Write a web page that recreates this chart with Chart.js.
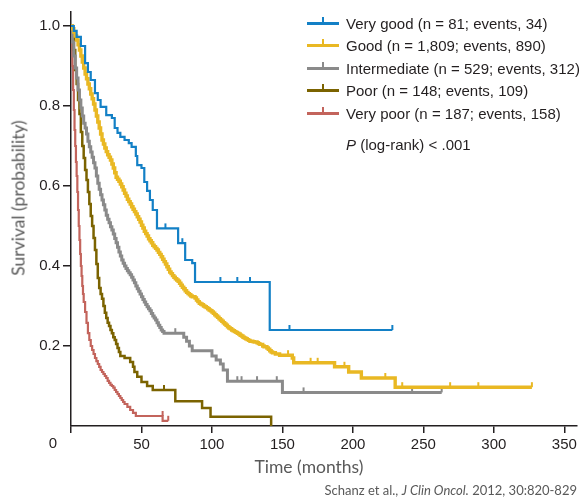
<!DOCTYPE html>
<html><head><meta charset="utf-8">
<script src="https://cdn.jsdelivr.net/npm/chart.js@4.4.0/dist/chart.umd.min.js"></script>
<style>
html,body{margin:0;padding:0;background:#fff;}
#wrap{position:relative;width:585px;height:500px;overflow:hidden;}
#c{position:absolute;left:0;top:0;}
.txt{position:absolute;white-space:nowrap;color:#231f20;font-family:"Liberation Sans",Arial,sans-serif;font-size:15px;}
.row{position:absolute;left:307px;height:20px;}
.sw{position:absolute;left:0;top:8px;width:32px;height:3px;}
.tk{position:absolute;left:15px;top:3px;width:2px;height:8px;}
.lab{position:absolute;left:39px;top:0;line-height:20px;}
.title{position:absolute;white-space:nowrap;color:#595959;font-family:Lato,"Open Sans",sans-serif;font-size:17.5px;}
</style></head>
<body><div id="wrap"><canvas id="c" width="585" height="500"></canvas>
<div id="legend"></div>
<div class="txt" style="left:346px;top:135px;line-height:20px;"><i>P</i> (log-rank) &lt; .001</div>
<div class="title" style="left:309px;top:466px;transform:translate(-50%,-50%);">Time (months)</div>
<div class="title" style="left:17.5px;top:198px;transform:translate(-50%,-50%) rotate(-90deg);">Survival (probability)</div>
<div class="title" style="right:8px;top:481px;font-size:13px;line-height:18px;">Schanz et al., <i>J Clin Oncol.</i> 2012, 30:820-829</div>
</div>
<script>
const seriesNames = ['Very good','Good','Intermediate','Poor','Very poor'];
const seriesN = ['81','1,809','529','148','187'];
const seriesEvents = ['34','890','312','109','158'];
const seriesColors = ['#1380c6','#e9b823','#8a8a8a','#7b6300','#c3645c'];
const seriesWidths = [2.2,3.4,3,2.5,2.2];

const xTicks = [0,50,100,150,200,250,300,350];
const yTicks = [0.2,0.4,0.6,0.8,1.0];

// Very good
const vgT = [0,2,4,7,10,12,14,17,19,21,25,29,31,33,35,38,41,43,46,47,50,52,54,56,58,61,76,81,86,88,141,228];
const vgS = [1,0.988,0.973,0.95,0.907,0.885,0.865,0.832,0.815,0.798,0.777,0.77,0.745,0.733,0.723,0.715,0.707,0.698,0.675,0.652,0.645,0.61,0.588,0.565,0.54,0.494,0.457,0.415,0.407,0.36,0.24,0.24];
const vgCT = [67,79,106,118,127,155,228];
const vgCS = [0.494,0.457,0.36,0.36,0.36,0.24,0.24];

// Good
const gT = [0,1,2,3,4,5,6,7,8,9,10,11,12,13,14,15,16,17,18,19,20,21,22,23,24,25,26,27,28,29,30,31,32,33,34,35,36,37,38,39,40,41,42,43,44,45,46,47,48,49,50,51,52,53,54,55,56,57,58,59,60,61,62,63,64,65,66,67,68,69,70,71,72,73,74,75,76,77,78,79,80,81,82,83,84,85,86,88,89,90,91,92,93,94,95,96,97,98,99,100,101,102,103,104,105,106,107,108,109,110,111,112,113,114,115,116,117,118,119,120,121,122,123,124,125,126,127,129,130,132,133,134,136,137,139,140,141,142,143,145,148,157,158,187,197,206,230,327];
const gS = [1,0.993,0.985,0.975,0.965,0.953,0.94,0.925,0.91,0.895,0.88,0.868,0.855,0.843,0.83,0.818,0.805,0.79,0.775,0.76,0.745,0.73,0.715,0.705,0.695,0.686,0.678,0.672,0.665,0.655,0.645,0.633,0.622,0.617,0.612,0.605,0.598,0.59,0.582,0.575,0.567,0.561,0.555,0.548,0.542,0.536,0.53,0.523,0.517,0.51,0.502,0.495,0.487,0.481,0.475,0.468,0.463,0.458,0.452,0.448,0.444,0.44,0.434,0.429,0.423,0.417,0.411,0.405,0.398,0.392,0.385,0.381,0.376,0.372,0.368,0.365,0.362,0.357,0.352,0.347,0.343,0.338,0.334,0.331,0.328,0.325,0.323,0.32,0.315,0.311,0.307,0.305,0.303,0.3,0.298,0.296,0.293,0.29,0.288,0.285,0.282,0.278,0.275,0.272,0.268,0.265,0.262,0.258,0.255,0.252,0.248,0.245,0.243,0.24,0.238,0.236,0.234,0.232,0.23,0.227,0.225,0.222,0.22,0.218,0.216,0.214,0.212,0.211,0.21,0.208,0.206,0.204,0.2,0.198,0.195,0.192,0.188,0.185,0.183,0.18,0.177,0.17,0.158,0.148,0.135,0.12,0.097,0.097];
const gCT = [154,170,175,194,223,235,269,289,327];
const gCS = [0.177,0.158,0.158,0.148,0.12,0.097,0.097,0.097,0.097];

// Intermediate
const iT = [0,1,2,3,4,5,6,7,8,9,10,11,12,13,14,15,16,17,18,19,20,21,22,23,24,25,26,27,28,29,30,31,32,33,34,35,36,37,38,39,40,41,42,43,44,45,46,47,48,49,50,51,52,53,54,55,56,57,58,59,60,61,62,63,64,65,66,80,82,84,86,100,103,106,108,111,150,263];
const iS = [1,0.96,0.925,0.895,0.87,0.84,0.815,0.795,0.775,0.757,0.745,0.73,0.712,0.698,0.685,0.672,0.658,0.645,0.625,0.607,0.592,0.578,0.565,0.553,0.54,0.527,0.517,0.508,0.498,0.49,0.48,0.469,0.458,0.447,0.435,0.425,0.415,0.407,0.4,0.394,0.388,0.383,0.378,0.372,0.365,0.358,0.35,0.343,0.337,0.33,0.323,0.316,0.31,0.304,0.298,0.293,0.288,0.281,0.275,0.27,0.265,0.258,0.252,0.246,0.24,0.236,0.232,0.222,0.212,0.2,0.188,0.175,0.165,0.155,0.14,0.112,0.084,0.084];
const iCT = [74,118,121,132,146,165,242,263];
const iCS = [0.232,0.112,0.112,0.112,0.112,0.084,0.084,0.084];

// Poor
const pT = [0,1,2,3,4,5,6,7,8,9,10,11,12,13,14,15,16,17,18,19,20,21,22,23,24,25,26,27,28,29,30,31,32,33,34,35,38,42,44,45,47,50,54,58,74,93,99,142];
const pS = [1,0.97,0.94,0.89,0.855,0.815,0.78,0.735,0.7,0.67,0.64,0.615,0.585,0.555,0.525,0.5,0.47,0.44,0.405,0.37,0.345,0.33,0.318,0.3,0.283,0.27,0.258,0.25,0.24,0.232,0.222,0.215,0.205,0.195,0.185,0.175,0.17,0.16,0.148,0.135,0.123,0.11,0.1,0.09,0.062,0.045,0.023,0];
const pCT = [66];
const pCS = [0.09];

// Very poor
const vpT = [0,0.5,1,1.5,2,2.5,3,3.5,4,4.5,5,5.5,6,6.5,7,7.5,8,8.5,9,10,11,12,13,14,15,16,17,18,19,20,21,22,23,24,25,26,27,28,29,30,31,32,33,34,35,36,37,38,40,42,44,46,65,69];
const vpS = [1,0.97,0.9,0.84,0.79,0.74,0.7,0.66,0.625,0.585,0.54,0.5,0.465,0.43,0.4,0.375,0.35,0.33,0.31,0.285,0.258,0.232,0.215,0.2,0.19,0.18,0.17,0.162,0.155,0.148,0.14,0.135,0.13,0.125,0.12,0.113,0.108,0.103,0.1,0.096,0.09,0.085,0.08,0.075,0.07,0.065,0.06,0.055,0.048,0.04,0.033,0.025,0.013,0.013];
const vpCT = [65,69];
const vpCS = [0.025,0.013];

const curves = [[vgT,vgS,vgCT,vgCS],[gT,gS,gCT,gCS],[iT,iS,iCT,iCS],[pT,pS,pCT,pCS],[vpT,vpS,vpCT,vpCS]];

// legend
const legendRowsY = [14,36,59,81,104];
const lg = document.getElementById('legend');
seriesNames.forEach((nm,i)=>{
  const r = document.createElement('div');
  r.className='row txt'; r.style.top = legendRowsY[i]+'px';
  r.innerHTML = '<div class="sw" style="background:'+seriesColors[i]+'"></div><div class="tk" style="background:'+seriesColors[i]+'"></div><div class="lab">'+nm+' (n = '+seriesN[i]+'; events, '+seriesEvents[i]+')</div>';
  lg.appendChild(r);
});

const datasets = [];
curves.forEach((c,i)=>{
  datasets.push({type:'scatter', data:c[2].map((t,j)=>({x:t,y:c[3][j]})), pointStyle:'dash', rotation:-90, pointRadius:5, pointBorderColor:seriesColors[i], pointBorderWidth:2, borderColor:seriesColors[i], backgroundColor:seriesColors[i], showLine:false, clip:false});
  datasets.push({type:'line', data:c[0].map((t,j)=>({x:t,y:c[1][j]})), stepped:'before', borderColor:seriesColors[i], borderWidth:seriesWidths[i], pointRadius:0, fill:false, tension:0});
});

const zeroLabel = {id:'zeroLabel', afterDraw(chart){
  const c = chart.ctx, xs = chart.scales.x;
  c.save(); c.fillStyle='#231f20'; c.font='15px "Liberation Sans", Arial, sans-serif';
  c.textAlign='center'; c.textBaseline='middle';
  c.fillText('0', xs.getPixelForValue(0)-18, 444);
  c.restore();
}};

const tickFont = {family:'"Liberation Sans", Arial, sans-serif', size:15};
new Chart(document.getElementById('c'), {
  data:{datasets},
  options:{
    responsive:false, animation:false, events:[],
    layout:{padding:{top:12,right:8,left:0,bottom:0}},
    plugins:{legend:{display:false}, tooltip:{enabled:false}},
    scales:{
      x:{type:'linear', min:0, max:359,
         afterBuildTicks:s=>{s.ticks = xTicks.map(v=>({value:v}));},
         afterFit:s=>{s.height = 74;},
         ticks:{callback:v=> v===0 ? '' : String(v), font:tickFont, color:'#231f20', padding:3, maxRotation:0, autoSkip:false},
         grid:{drawOnChartArea:false, drawTicks:true, tickLength:7, color:'#231f20', lineWidth:1.5},
         border:{display:true, color:'#231f20', width:1.5}},
      y:{type:'linear', min:0, max:1.035,
         afterBuildTicks:s=>{s.ticks = yTicks.map(v=>({value:v}));},
         afterFit:s=>{s.width = 71;},
         ticks:{callback:v=>Number(v).toFixed(1), font:tickFont, color:'#231f20', padding:3, autoSkip:false},
         grid:{drawOnChartArea:false, drawTicks:true, tickLength:8, color:'#231f20', lineWidth:1.5},
         border:{display:true, color:'#231f20', width:1.5}}
    }
  },
  plugins:[zeroLabel]
});
</script></body></html>
